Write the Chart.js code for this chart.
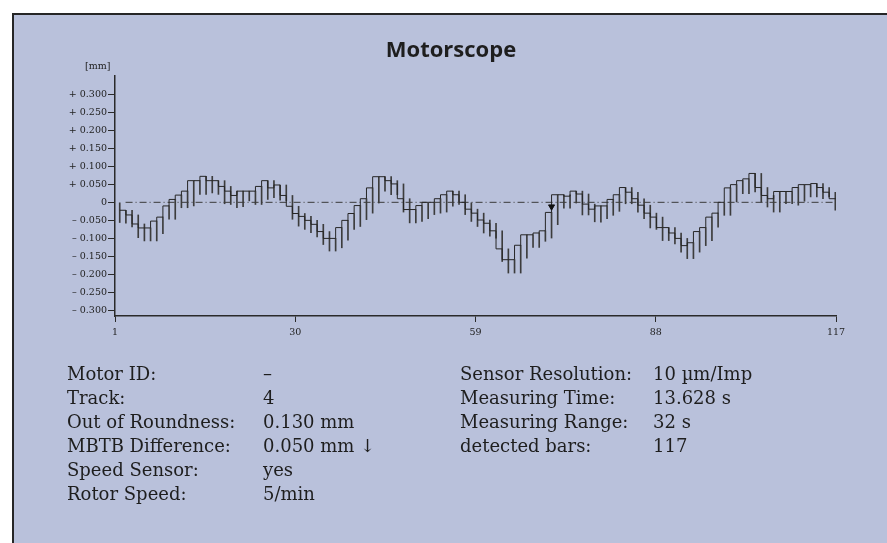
<!DOCTYPE html>
<html>
<head>
<meta charset="utf-8">
<script src="https://cdn.jsdelivr.net/npm/chart.js@4.4.1/dist/chart.umd.min.js"></script>
<style>
  html, body { margin: 0; padding: 0; background: #ffffff; }
  #wrap { position: relative; width: 887px; height: 543px; overflow: hidden; }
  #panel { position: absolute; left: 12px; top: 13px; width: 880px; height: 540px;
           background: #B9C1DB; border-left: 2px solid #262626; border-top: 2px solid #262626; box-sizing: border-box; }
  #c { position: absolute; left: 0; top: 0; }
  .t { position: absolute; white-space: nowrap; color: #1e1e1e; }
  #title { left: 0; width: 902px; top: 33px; text-align: center; font: bold 22px "Open Sans", sans-serif; }
  #unit { left: 85px; top: 60px; font: 9.5px "DejaVu Serif", serif; }
  .info { font: 18px "DejaVu Serif", serif; line-height: 24px; }
</style>
</head>
<body>
<div id="wrap">
  <div id="panel"></div>
  <canvas id="c" width="887" height="543"></canvas>
  <div class="t" id="title">Motorscope</div>
  <div class="t" id="unit">[mm]</div>
  <div id="info"></div>
</div>
<script>
// ---- data ----
const barLevels = [
  -0.022, -0.022, -0.035, -0.060, -0.071, -0.071, -0.052, -0.041, -0.010, 0.008,
   0.020,  0.031,  0.060,  0.060,  0.072,  0.060,  0.060,  0.044,  0.031, 0.019,
   0.031,  0.031,  0.031,  0.044,  0.060,  0.040,  0.048,  0.019, -0.011, -0.031,
  -0.039, -0.050, -0.061, -0.081, -0.100, -0.100, -0.070, -0.050, -0.031, -0.009,
   0.010,  0.040,  0.071,  0.071,  0.060,  0.051,  0.010, -0.020, -0.020, -0.009,
   0.000,  0.000,  0.010,  0.021,  0.031,  0.021,  0.000, -0.019, -0.030, -0.049,
  -0.058, -0.079, -0.129, -0.159, -0.159, -0.119, -0.090, -0.090, -0.085, -0.079,
  -0.028,  0.021,  0.021,  0.017,  0.031,  0.023, -0.005, -0.019, -0.010, -0.010,
   0.008,  0.021,  0.041,  0.028,  0.010, -0.008, -0.030, -0.041, -0.070, -0.070,
  -0.085, -0.100, -0.120, -0.112, -0.081, -0.070, -0.041, -0.030,  0.000,  0.040,
   0.049,  0.060,  0.065,  0.080,  0.041,  0.019,  0.010,  0.030,  0.030,  0.030,
   0.041,  0.049,  0.049,  0.052,  0.041,  0.028,  0.010
];
const edgeLows = [
  -0.056, -0.058, -0.068, -0.098, -0.107, -0.107, -0.107, -0.087, -0.047, -0.047,
  -0.015, -0.015, -0.010,  0.022,  0.022,  0.026,  0.022, -0.004, -0.006, -0.015,
  -0.012,  0.004, -0.006, -0.006,  0.008,  0.013,  0.006,  0.004, -0.047, -0.066,
  -0.075, -0.084, -0.096, -0.117, -0.135, -0.135, -0.126, -0.105, -0.075, -0.067,
  -0.048, -0.030, -0.002,  0.031,  0.021,  0.021, -0.027, -0.057, -0.057, -0.053,
  -0.045, -0.034, -0.030, -0.027, -0.011, -0.006, -0.034, -0.053, -0.067, -0.085,
  -0.094, -0.099, -0.164, -0.196, -0.196, -0.196, -0.155, -0.125, -0.125, -0.108,
  -0.099, -0.062, -0.016, -0.016, -0.002, -0.035, -0.035, -0.054, -0.055, -0.045,
  -0.036, -0.025, -0.004, -0.004, -0.027, -0.045, -0.071, -0.075, -0.106, -0.106,
  -0.115, -0.138, -0.156, -0.156, -0.138, -0.120, -0.106, -0.069, -0.036, -0.036,
   0.001,  0.024,  0.024,  0.029,  0.001, -0.013, -0.027, -0.027, -0.004, -0.004,
  -0.008,  0.003,  0.015,  0.015,  0.010,  0.015, -0.022
];
const mbtbMarkerBar = 71;
const xTickValues = [1, 30, 59, 88, 117];
const yTickValues = [0.3, 0.25, 0.2, 0.15, 0.1, 0.05, 0, -0.05, -0.1, -0.15, -0.2, -0.25, -0.3];
const infoLeftLabels  = ['Motor ID:', 'Track:', 'Out of Roundness:', 'MBTB Difference:', 'Speed Sensor:', 'Rotor Speed:'];
const infoLeftValues  = ['–', '4', '0.130 mm', '0.050 mm ↓', 'yes', '5/min'];
const infoRightLabels = ['Sensor Resolution:', 'Measuring Time:', 'Measuring Range:', 'detected bars:'];
const infoRightValues = ['10 µm/Imp', '13.628 s', '32 s', '117'];

// ---- layout helpers ----
const firstEdge = 1.76, barPitch = 0.9925;
const edgeX = barLevels.map((_, i) => firstEdge + i * barPitch);

const stepData = barLevels.map((v, i) => ({ x: edgeX[i], y: v }));
stepData.push({ x: firstEdge + barLevels.length * barPitch, y: barLevels[barLevels.length - 1] });

const spikeData = barLevels.map((v, i) => {
  const prev = i === 0 ? 0 : barLevels[i - 1];
  return { x: edgeX[i], y: [edgeLows[i], Math.max(prev, v)] };
});

const markerData = [{ x: edgeX[mbtbMarkerBar - 1], y: -0.012 }];
const zeroLine = [{ x: 2.7, y: 0 }, { x: 117, y: 0 }];

function fmtY(v) {
  if (Math.abs(v) < 1e-9) return '0';
  return (v > 0 ? '+ ' : '– ') + Math.abs(v).toFixed(3);
}

const axisColor = '#2a2a2a';
const tickFont = { family: '"DejaVu Serif", serif', size: 9.5 };

new Chart(document.getElementById('c'), {
  type: 'line',
  data: {
    datasets: [
      { type: 'line', data: zeroLine, borderColor: '#3a3a3a', borderWidth: 1,
        borderDash: [7, 3, 1, 3], pointRadius: 0, order: 4 },
      { type: 'bar', data: spikeData, backgroundColor: '#3c3c3c', borderWidth: 0,
        barThickness: 1, grouped: false, order: 3 },
      { type: 'line', data: stepData, stepped: 'after', borderColor: '#262626',
        borderWidth: 1, pointRadius: 0, fill: false, order: 2 },
      { type: 'scatter', data: markerData, pointStyle: 'triangle', rotation: 180,
        pointRadius: 3.5, backgroundColor: '#111', borderColor: '#111', order: 1 }
    ]
  },
  options: {
    responsive: false,
    animation: false,
    devicePixelRatio: 1,
    layout: { padding: { left: 0, right: 51, top: 76, bottom: 197 } },
    plugins: { legend: { display: false }, tooltip: { enabled: false }, title: { display: false } },
    scales: {
      x: {
        type: 'linear', min: 1, max: 117, offset: false,
        afterFit: s => { s.height = 30; },
        afterBuildTicks: s => { s.ticks = xTickValues.map(v => ({ value: v })); },
        ticks: { color: '#222', font: tickFont, padding: 5, maxRotation: 0, autoSkip: false,
                 callback: v => String(v) },
        grid: { offset: false, drawOnChartArea: false, drawTicks: true, tickLength: 6, color: axisColor, lineWidth: 1 },
        border: { display: true, color: axisColor, width: 1.5 }
      },
      y: {
        type: 'linear', min: -0.315, max: 0.35,
        afterFit: s => { s.width = 115; },
        afterBuildTicks: s => { s.ticks = yTickValues.map(v => ({ value: v })); },
        ticks: { color: '#222', font: tickFont, padding: 1, autoSkip: false, callback: v => fmtY(v) },
        grid: { offset: false, drawOnChartArea: false, drawTicks: true, tickLength: 7, color: axisColor, lineWidth: 1 },
        border: { display: true, color: axisColor, width: 1.5 }
      }
    }
  }
});

// ---- info block ----
const info = document.getElementById('info');
function addCol(items, left, top) {
  items.forEach((txt, i) => {
    const d = document.createElement('div');
    d.className = 't info';
    d.style.left = left + 'px';
    d.style.top = (top + i * 23.9) + 'px';
    d.textContent = txt;
    info.appendChild(d);
  });
}
addCol(infoLeftLabels, 67, 362);
addCol(infoLeftValues, 263, 362);
addCol(infoRightLabels, 460, 362);
addCol(infoRightValues, 653, 362);
</script>
</body>
</html>
